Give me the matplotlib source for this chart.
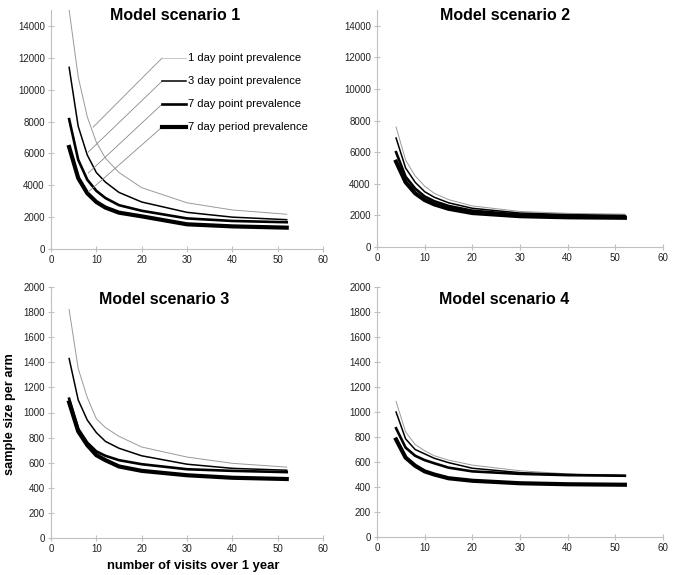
import numpy as np
import matplotlib.pyplot as plt

plt.rcParams['font.family'] = ['Liberation Sans', 'DejaVu Sans']

### data

visits = [4, 6, 8, 10, 12, 15, 20, 30, 40, 52]
labels = ['1 day point prevalence', '3 day point prevalence',
          '7 day point prevalence', '7 day period prevalence']

s1_day1 = [15000, 10800, 8300, 6700, 5700, 4800, 3850, 2900, 2450, 2180]
s1_day3 = [11400, 7700, 5900, 4800, 4200, 3550, 2950, 2300, 2000, 1840]
s1_day7 = [8150, 5600, 4350, 3650, 3200, 2750, 2400, 1920, 1760, 1680]
s1_per7 = [6400, 4450, 3500, 2950, 2600, 2280, 2050, 1550, 1420, 1340]

s2_day1 = [7600, 5500, 4500, 3850, 3400, 3000, 2600, 2250, 2130, 2080]
s2_day3 = [6900, 5000, 4100, 3500, 3150, 2800, 2450, 2150, 2050, 2000]
s2_day7 = [6000, 4450, 3700, 3200, 2900, 2600, 2300, 2050, 1960, 1920]
s2_per7 = [5400, 4100, 3400, 2970, 2700, 2420, 2150, 1950, 1880, 1850]

s3_day1 = [1820, 1350, 1120, 950, 880, 810, 725, 645, 595, 565]
s3_day3 = [1430, 1100, 940, 840, 770, 715, 655, 588, 555, 540]
s3_day7 = [1110, 870, 760, 690, 655, 620, 588, 548, 535, 525]
s3_per7 = [1080, 850, 740, 660, 620, 570, 535, 500, 480, 470]

s4_day1 = [1085, 840, 740, 690, 650, 615, 575, 530, 505, 495]
s4_day3 = [1000, 785, 700, 665, 630, 595, 550, 515, 500, 490]
s4_day7 = [870, 715, 650, 615, 590, 555, 525, 505, 495, 490]
s4_per7 = [780, 635, 570, 525, 500, 470, 450, 430, 422, 418]

scenarios = [
    ('Model scenario 1', [s1_day1, s1_day3, s1_day7, s1_per7], 15000, 14000, 2000),
    ('Model scenario 2', [s2_day1, s2_day3, s2_day7, s2_per7], 15000, 14000, 2000),
    ('Model scenario 3', [s3_day1, s3_day3, s3_day7, s3_per7], 2000, 2000, 200),
    ('Model scenario 4', [s4_day1, s4_day3, s4_day7, s4_per7], 2000, 2000, 200),
]

# styles for the 4 series
colors = ['#9a9a9a', 'black', 'black', 'black']
widths = [0.7, 1.1, 1.9, 3.0]

### figure

W, H = 685, 575
fig = plt.figure(figsize=(W/100, H/100), dpi=100)

def box(left, right, bottom, top):
    # pixel box -> figure fraction
    return [left/W, 1-bottom/H, (right-left)/W, (bottom-top)/H]

boxes = [box(51, 323, 249, 10), box(377, 663, 247, 10),
         box(51, 323, 538, 287), box(377, 663, 537, 287)]
title_pos = [(175, 16), (505, 16), (164, 300), (504, 300)]

axes = []
for k, (title, series, ymax, ytop, ystep) in enumerate(scenarios):
    ax = fig.add_axes(boxes[k])
    for i in range(4):
        ax.plot(visits, series[i], color=colors[i], lw=widths[i],
                solid_joinstyle='miter', clip_on=True)
    ax.set_xlim(0, 60)
    ax.set_ylim(0, ymax)
    ax.set_xticks(np.arange(0, 61, 10))
    ax.set_yticks(np.arange(0, ytop+1, ystep))
    for s in ['top', 'right']:
        ax.spines[s].set_visible(False)
    for s in ['left', 'bottom']:
        ax.spines[s].set_color('#c0c0c0')
        ax.spines[s].set_linewidth(0.8)
    ax.tick_params(direction='inout', length=4, width=0.8, color='#c0c0c0',
                   labelsize=7, labelcolor='#222222', pad=2.5)
    fig.text(title_pos[k][0]/W, 1-title_pos[k][1]/H, title, ha='center',
             va='center', fontsize=11.5, fontweight='bold')
    axes.append(ax)

### legend with leader lines in scenario 1

ax = axes[0]
leg_y = [11980, 10530, 9090, 7650]
tip = [(9.3, 7650), (8.2, 6080), (8.2, 4765), (8.2, 3575)]
for i in range(4):
    ax.plot([tip[i][0], 24.5], [tip[i][1], leg_y[i]], color='#8a8a8a', lw=0.6)
    ax.plot([24.5, 29.8], [leg_y[i], leg_y[i]], color=colors[i] if i else '#c8c8c8',
            lw=widths[i])
    ax.text(30.2, leg_y[i], labels[i], fontsize=8, va='center', ha='left')

### axis labels

fig.text(193/W, 1-566/H, 'number of visits over 1 year', ha='center', va='center',
         fontsize=9.4, fontweight='bold')
fig.text(10/W, 1-414/H, 'sample size per arm', ha='center', va='center',
         fontsize=9.2, fontweight='bold', rotation=90)

fig.savefig('out.png', dpi=100)
